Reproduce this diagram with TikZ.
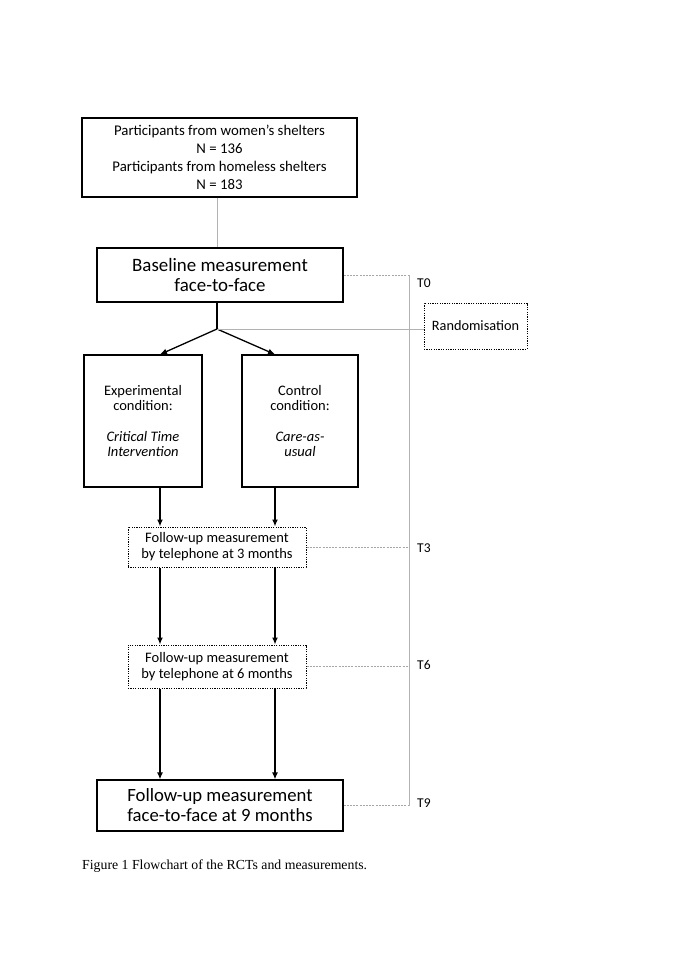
\documentclass[tikz,border=0pt]{standalone}
\usepackage{fontspec}
\setmainfont{Carlito}
\newfontfamily\capfont{Liberation Serif}
\usetikzlibrary{arrows.meta,calc}
\begin{document}
\begin{tikzpicture}[x=1pt,y=-1pt,
  solidbox/.style={draw=black,line width=1.2pt,align=center,inner sep=0pt},
  dotbox/.style={draw=black,line width=1pt,dash pattern=on 1.2pt off 1.2pt,align=center,inner sep=0pt},
  flow/.style={draw=black,line width=1.3pt,-{Latex[length=7pt,width=6pt]}},
  plain/.style={draw=black,line width=1.3pt},
  grayline/.style={draw=black!30,line width=0.9pt},
  graydash/.style={draw=black!35,line width=0.8pt,dash pattern=on 2pt off 1.2pt},
  tlabel/.style={anchor=west,inner sep=0pt,font=\fontsize{13.5}{15}\selectfont}]
\useasboundingbox (0,0) rectangle (685,968);
\node[solidbox,minimum width=275pt,minimum height=79pt,font=\fontsize{14.8}{17.8}\selectfont] (b1) at (219.5,157.5)
  {Participants from women’s shelters\\N = 136\\Participants from homeless shelters\\N = 183};
\node[solidbox,minimum width=246pt,minimum height=54pt,font=\fontsize{18.9}{20}\selectfont] (b2) at (220,275)
  {Baseline measurement\\face-to-face};
\node[dotbox,minimum width=103pt,minimum height=46pt,font=\fontsize{14.3}{16}\selectfont] (rand) at (475.5,326) {Randomisation};
\node[solidbox,minimum width=118pt,minimum height=132pt,font=\fontsize{14.5}{15.5}\selectfont] (exp) at (143,421)
  {Experimental\\condition:\\[15pt]\textit{Critical Time}\\\textit{Intervention}};
\node[solidbox,minimum width=116pt,minimum height=132pt,font=\fontsize{14.5}{15.5}\selectfont] (ctl) at (300,421)
  {Control\\condition:\\[15pt]\textit{Care-as-}\\\textit{usual}};
\node[dotbox,minimum width=178pt,minimum height=40pt,font=\fontsize{14.5}{16}\selectfont] (f3) at (217,547)
  {Follow-up measurement\\by telephone at 3 months};
\node[dotbox,minimum width=178pt,minimum height=43pt,font=\fontsize{14.5}{16}\selectfont] (f6) at (217,666.5)
  {Follow-up measurement\\by telephone at 6 months};
\node[solidbox,minimum width=246pt,minimum height=51pt,font=\fontsize{18.7}{20}\selectfont] (f9) at (220,805.5)
  {Follow-up measurement\\face-to-face at 9 months};
\node[anchor=west,inner sep=0pt,font=\capfont\fontsize{13.8}{15}\selectfont] (cap) at (82,866)
  {Figure 1 Flowchart of the RCTs and measurements.};
% time labels
\node[tlabel] (t0) at (417,283) {T0};
\node[tlabel] (t3) at (417,548) {T3};
\node[tlabel] (t6) at (417,665) {T6};
\node[tlabel] (t9) at (417,803) {T9};
% helper coordinates
\coordinate (j) at (217,329);
\coordinate (ax) at (160,0);
\coordinate (bx) at (275,0);
\coordinate (vx) at (409,0);
% connectors
\draw[grayline] (b1.south -| j) -- (b2.north -| j);
\draw[plain] (b2.south -| j) -- (j);
\draw[flow] (j) -- (exp.north -| ax);
\draw[flow] (j) -- (ctl.north -| bx);
\draw[grayline] (j) -- (j -| rand.west);
\draw[flow] (exp.south -| ax) -- (f3.north -| ax);
\draw[flow] (ctl.south -| bx) -- (f3.north -| bx);
\draw[flow] (f3.south -| ax) -- (f6.north -| ax);
\draw[flow] (f3.south -| bx) -- (f6.north -| bx);
\draw[flow] (f6.south -| ax) -- (f9.north -| ax);
\draw[flow] (f6.south -| bx) -- (f9.north -| bx);
% time line
\draw[grayline] (b2.east -| vx) coordinate (v0) -- (f9.east -| vx) coordinate (v9);
\draw[graydash] (b2.east) -- (v0);
\draw[graydash] (f3.east) -- (f3.east -| vx);
\draw[graydash] (f6.east) -- (f6.east -| vx);
\draw[graydash] (f9.east) -- (v9);
\end{tikzpicture}
\end{document}
